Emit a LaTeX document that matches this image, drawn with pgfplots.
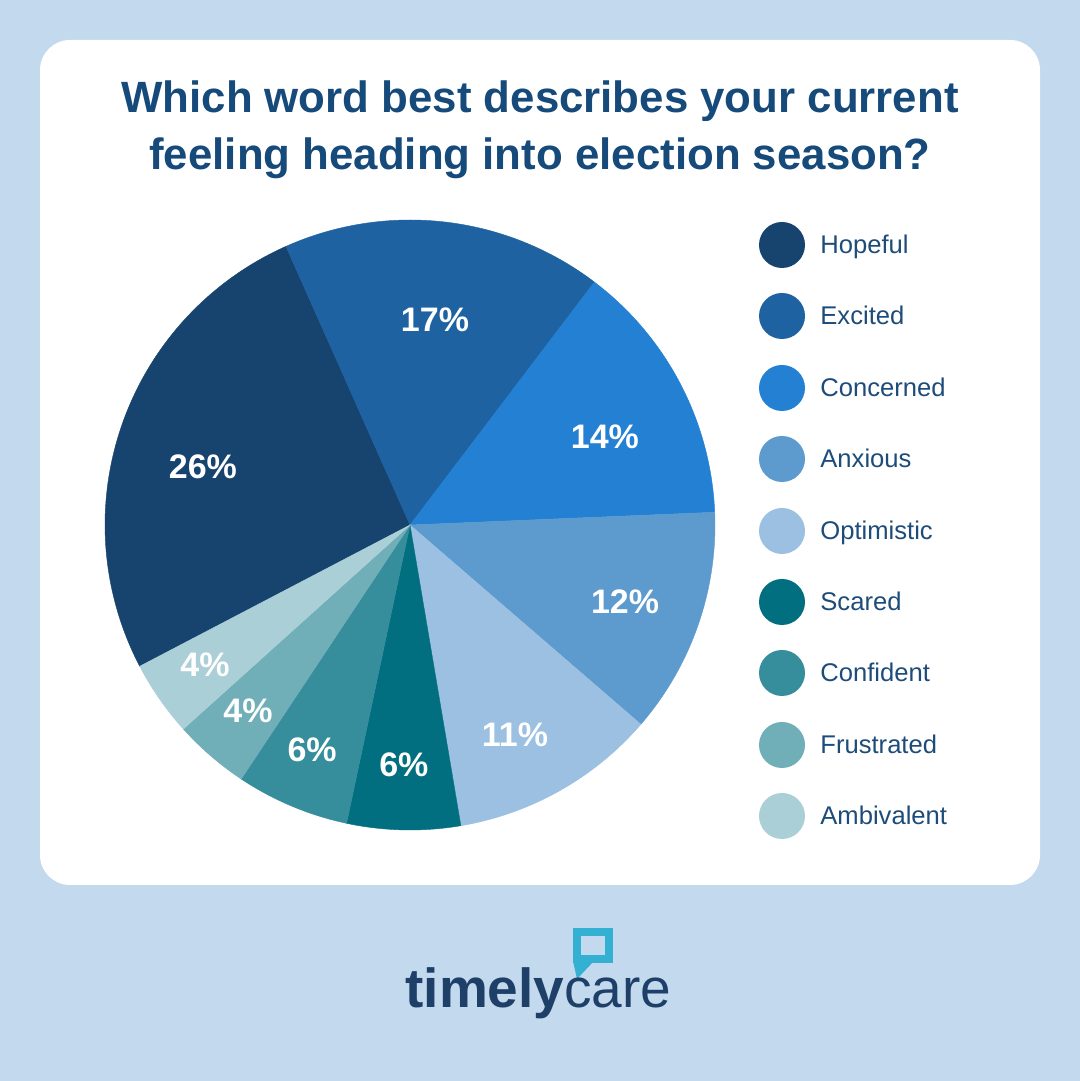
\documentclass[border=0pt]{standalone}
\usepackage{pgfplots}
\pgfplotsset{compat=1.18}
\usepackage{fontspec}
\setmainfont{Liberation Sans}
\definecolor{bg}{HTML}{C3D9EE}
\definecolor{titlec}{HTML}{164A7A}
\definecolor{legc}{HTML}{1E4C7A}
\definecolor{logoc}{HTML}{1E4068}
\definecolor{bubble}{HTML}{33B0D2}
\definecolor{cHop}{HTML}{17446E}
\definecolor{cExc}{HTML}{1E62A2}
\definecolor{cCon}{HTML}{2380D2}
\definecolor{cAnx}{HTML}{5D9ACD}
\definecolor{cOpt}{HTML}{9BC0E2}
\definecolor{cSca}{HTML}{016F80}
\definecolor{cCnf}{HTML}{368D9B}
\definecolor{cFru}{HTML}{70AFB8}
\definecolor{cAmb}{HTML}{AACFD6}
\begin{document}
\begin{tikzpicture}[x=0.5pt,y=0.5pt]
\fill[bg] (0,0) rectangle (1080,1081);
\useasboundingbox (0,0) rectangle (1080,1081);
\fill[white,rounded corners=15pt] (40,196) rectangle (1040,1041);
% title
\node[anchor=base,text=titlec,font=\fontsize{21.9pt}{26pt}\selectfont\bfseries,inner sep=0] at (540,968) {Which word best describes your current};
\node[anchor=base,text=titlec,font=\fontsize{21.9pt}{26pt}\selectfont\bfseries,inner sep=0] at (540,911) {feeling heading into election season?};
% pie: shares (%) Hopeful 26, Excited 17, Concerned 14, Anxious 12, Optimistic 11,
% Scared 6, Confident 6, Frustrated 4, Ambivalent 4; clockwise from 207.6 deg, 3.6 deg per %
\begin{axis}[at={(205pt,278pt)},anchor=origin,width=305pt,height=305pt,scale only axis,
  hide axis,xmin=-1,xmax=1,ymin=-1,ymax=1,clip=false,
  every axis plot/.append style={data cs=polar,samples=80,line width=0.2pt}]
\addplot[fill=cHop,draw=cHop,domain=114:207.6] ({x},{1}) -- (axis cs:0,0) -- cycle;
\addplot[fill=cExc,draw=cExc,domain=52.8:114] ({x},{1}) -- (axis cs:0,0) -- cycle;
\addplot[fill=cCon,draw=cCon,domain=2.4:52.8] ({x},{1}) -- (axis cs:0,0) -- cycle;
\addplot[fill=cAnx,draw=cAnx,domain=-40.8:2.4] ({x},{1}) -- (axis cs:0,0) -- cycle;
\addplot[fill=cOpt,draw=cOpt,domain=-80.4:-40.8] ({x},{1}) -- (axis cs:0,0) -- cycle;
\addplot[fill=cSca,draw=cSca,domain=-102:-80.4] ({x},{1}) -- (axis cs:0,0) -- cycle;
\addplot[fill=cCnf,draw=cCnf,domain=-123.6:-102] ({x},{1}) -- (axis cs:0,0) -- cycle;
\addplot[fill=cFru,draw=cFru,domain=-138:-123.6] ({x},{1}) -- (axis cs:0,0) -- cycle;
\addplot[fill=cAmb,draw=cAmb,domain=-152.4:-138] ({x},{1}) -- (axis cs:0,0) -- cycle;
\begin{scope}[every node/.style={text=white,font=\fontsize{17pt}{19pt}\selectfont\bfseries,inner sep=0}]
\node at (axis cs:-0.679,0.190) {26\%};
\node at (axis cs:0.082,0.672) {17\%};
\node at (axis cs:0.639,0.289) {14\%};
\node at (axis cs:0.705,-0.252) {12\%};
\node at (axis cs:0.344,-0.689) {11\%};
\node at (axis cs:-0.020,-0.787) {6\%};
\node at (axis cs:-0.321,-0.738) {6\%};
\node at (axis cs:-0.531,-0.610) {4\%};
\node at (axis cs:-0.672,-0.459) {4\%};
\end{scope}
\end{axis}
% legend
\foreach \n/\c/\yy in {Hopeful/cHop/245,Excited/cExc/316,Concerned/cCon/388,Anxious/cAnx/459,Optimistic/cOpt/531,Scared/cSca/602,Confident/cCnf/673,Frustrated/cFru/745,Ambivalent/cAmb/816}{
  \fill[\c] (782,1081-\yy) circle[radius=23];
  \node[anchor=base west,inner sep=0,text=legc,font=\fontsize{12.8pt}{15pt}\selectfont] at (820,1081-\yy-8.5) {\n};
}
% logo
\draw[bubble,line width=4pt] (577,149) rectangle (609,122);
\fill[bubble] (573,120) -- (594,120) -- (577,102) -- cycle;
\node[anchor=base west,inner sep=0,text=logoc,font=\fontsize{27.5pt}{30pt}\selectfont] at (405,73) {\textbf{timely}care};
\end{tikzpicture}
\end{document}
